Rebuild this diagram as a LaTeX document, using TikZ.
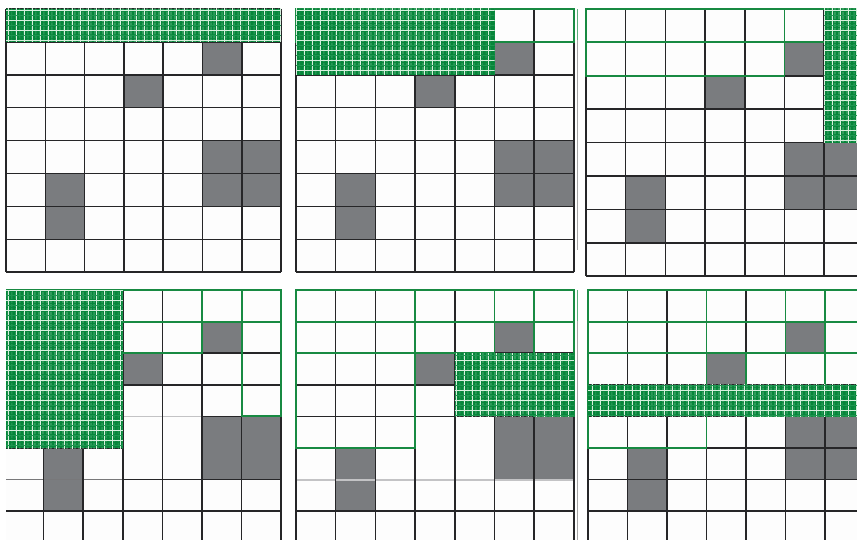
\documentclass[tikz,border=0pt]{standalone}
\usetikzlibrary{patterns.meta}
\definecolor{cellgray}{RGB}{122,124,127}
\definecolor{hgreen}{RGB}{6,134,58}
\definecolor{hfaint}{RGB}{30,150,80}
\definecolor{hwhite}{RGB}{215,240,222}
\definecolor{ogreen}{RGB}{24,138,66}
\definecolor{gridc}{RGB}{38,38,40}
\definecolor{midc}{RGB}{120,120,122}
\definecolor{lgrid}{RGB}{195,195,197}
\definecolor{cellw}{RGB}{253,253,253}
\tikzset{
  gridline/.style={draw=gridc, line width=1.5pt},
  midline/.style={draw=midc, line width=1.5pt},
  lightline/.style={draw=lgrid, line width=1.8pt},
  outl/.style={draw=ogreen, line width=1.9pt},
  grayc/.style={fill=cellgray},
  ghost/.style={draw=gray!70, line width=0.8pt},
}
\newcommand\graycells{%
  \foreach \c/\r in {5/1,3/2,5/4,6/4,5/5,6/5,1/5,1/6}
    \fill[grayc] (\c,\r) rectangle ++(1,1);}
\newcommand\stdgrid{%
  \foreach \c in {0,...,7} \draw[gridline] (\c,0) -- (\c,8);
  \foreach \r in {0,...,8} \draw[gridline] (0,\r) -- (7,\r);}
\newcommand\hatchbox[1]{%
  \fill[hgreen] #1;
  \fill[pattern={Lines[distance=4pt,angle=90,line width=.6pt,xshift=2pt]},pattern color=hfaint] #1;
  \fill[pattern={Lines[distance=8pt,angle=90,line width=.4pt]},pattern color=hwhite] #1;
  \fill[pattern={Lines[distance=10pt,angle=0,line width=.8pt,yshift=5pt]},pattern color=hfaint] #1;
  \fill[pattern={Lines[distance=10pt,angle=0,line width=.4pt]},pattern color=hwhite] #1;}
\begin{document}
\begin{tikzpicture}[x=1pt,y=-1pt]
\useasboundingbox (0,0) rectangle (857,540);
\fill[white] (0,0) rectangle (857,540);
\clip (0,0) rectangle (857,540);
% ---------- Panel 1
\begin{scope}[xshift=6pt,yshift=-9pt,x=39.3pt,y=-32.9pt]
  \fill[cellw] (0,0) rectangle (7,8);
  \graycells
  \stdgrid
  \hatchbox{(0,0) rectangle (7,1)}
\end{scope}
% ---------- Panel 2
\begin{scope}[xshift=296pt,yshift=-9pt,x=39.7pt,y=-32.9pt]
  \fill[cellw] (0,0) rectangle (7,8);
  \graycells
  \stdgrid
  \draw[outl] (0,0) rectangle (7,1);
  \hatchbox{(0,0) rectangle (5,2)}
\end{scope}
% ---------- Panel 3
\draw[ghost] (577.5,12) -- (577.5,250);
\draw[draw=ogreen!70, line width=0.8pt] (577.5,9) -- (577.5,40);
\begin{scope}[xshift=586pt,yshift=-9pt,x=39.7pt,y=-33.4pt]
  \fill[cellw] (0,0) rectangle (7,8);
  \graycells
  \stdgrid
  \draw[outl] (0,0) rectangle (7,1);
  \draw[outl] (0,0) rectangle (5,2);
  \hatchbox{(6,0) rectangle (7,4)}
\end{scope}
% ---------- Panel 4
\begin{scope}
\clip (6,280) rectangle (290,540);
\begin{scope}[xshift=4pt,yshift=-290pt,x=39.6pt,y=-31.6pt]
  \fill[cellw] (0,0) rectangle (7,8);
  \graycells
  \draw[lightline] (3,4) -- (5,4);
  \draw[midline] (0,6) -- (3,6);
  \foreach \c in {0,...,7} \draw[gridline] (\c,0) -- (\c,8);
  \foreach \r in {0,1,2,3,7,8} \draw[gridline] (0,\r) -- (7,\r);
  \draw[gridline] (0,4) -- (3,4) (5,4) -- (7,4);
  \draw[gridline] (0,5) -- (3,5);
  \draw[gridline] (3,6) -- (7,6);
  \draw[outl] (0,0) rectangle (7,1);
  \draw[outl] (0,0) rectangle (5,2);
  \draw[outl] (6,0) rectangle (7,4);
  \hatchbox{(0,0) rectangle (3,5)}
\end{scope}
\end{scope}
% ---------- Panel 5
\begin{scope}[xshift=296pt,yshift=-290pt,x=39.7pt,y=-31.6pt]
  \fill[cellw] (0,0) rectangle (7,8);
  \graycells
  \draw[lightline] (0,6) -- (7,6);
  \foreach \c in {0,...,7} \draw[gridline] (\c,0) -- (\c,8);
  \foreach \r in {0,1,2,3,4,7,8} \draw[gridline] (0,\r) -- (7,\r);
  \draw[gridline] (0,5) -- (3,5);
  \draw[outl] (0,0) rectangle (7,1);
  \draw[outl] (0,0) rectangle (5,2);
  \draw[outl] (6,0) rectangle (7,4);
  \draw[outl] (0,0) rectangle (3,5);
  \hatchbox{(4,2) rectangle (7,4)}
\end{scope}
% ---------- Panel 6
\draw[ghost] (577.5,290) -- (577.5,540);
\draw[draw=ogreen!70, line width=0.8pt] (577.5,290) -- (577.5,321);
\begin{scope}[xshift=588pt,yshift=-290pt,x=39.5pt,y=-31.6pt]
  \fill[cellw] (0,0) rectangle (7,8);
  \graycells
  \stdgrid
  \draw[outl] (0,0) rectangle (7,1);
  \draw[outl] (0,0) rectangle (5,2);
  \draw[outl] (6,0) rectangle (7,4);
  \draw[outl] (0,0) rectangle (3,5);
  \draw[outl] (4,2) rectangle (7,4);
  \hatchbox{(0,3) rectangle (7,4)}
\end{scope}
\end{tikzpicture}
\end{document}
